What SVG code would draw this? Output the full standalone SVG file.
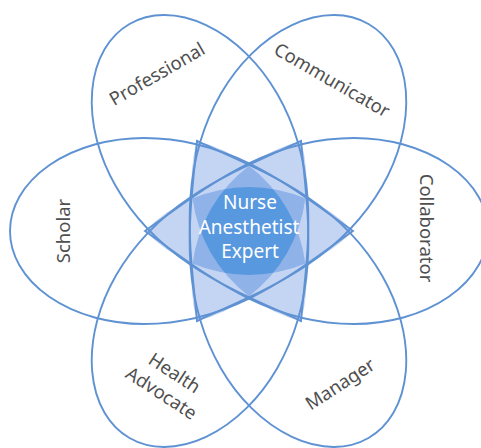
<svg xmlns="http://www.w3.org/2000/svg" width="481" height="448" viewBox="0 0 481 448">
  <style>
    .petal { fill: none; stroke: #5e92d3; stroke-width: 1.9; }
    .label { font-family: "Noto Sans", "Open Sans", "Liberation Sans", sans-serif; font-size: 18.5px; fill: #4f4f4f; text-anchor: middle; }
    .core { font-family: "Noto Sans", "Open Sans", "Liberation Sans", sans-serif; font-size: 19px; fill: #ffffff; text-anchor: middle; }
    .light { fill: #c4d4f3; }
    .mid { fill: #8fb2e9; }
    .dark { fill: #5898df; }
  </style>
  <defs>
    <!-- leaf-shaped petal: rounded outer end on the left, pointed tip past the flower centre -->
    <path id="petal" d="M 104 0 C 46.7 -40.2, -15 -93, -105 -93 A 134 93 0 0 0 -239 0 A 134 93 0 0 0 -105 93 C -15 93, 46.7 40.2, 104 0 Z"/>
    <!-- pointed lens through the centre; rotated copies make the star -->
    <path id="lens" d="M -104 0 A 145 145 0 0 1 104 0 A 145 145 0 0 1 -104 0 Z"/>
    <clipPath id="clip-l60"><use href="#lens" transform="translate(249 231) rotate(-60)"/></clipPath>
    <clipPath id="clip-l120"><use href="#lens" transform="translate(249 231) rotate(-120)"/></clipPath>
  </defs>

  <rect width="481" height="448" fill="#ffffff"/>

  <!-- shaded overlaps in the middle of the flower -->
  <g id="overlaps">
    <use href="#lens" class="light" transform="translate(249 231)"/>
    <use href="#lens" class="light" transform="translate(249 231) rotate(-60)"/>
    <use href="#lens" class="light" transform="translate(249 231) rotate(-120)"/>
    <g clip-path="url(#clip-l60)"><use href="#lens" class="mid" transform="translate(249 231)"/></g>
    <g clip-path="url(#clip-l120)"><use href="#lens" class="mid" transform="translate(249 231)"/></g>
    <g clip-path="url(#clip-l120)"><use href="#lens" class="mid" transform="translate(249 231) rotate(-60)"/></g>
    <g clip-path="url(#clip-l120)"><g clip-path="url(#clip-l60)"><use href="#lens" class="dark" transform="translate(249 231)"/></g></g>
  </g>

  <g id="scholar">
    <use href="#petal" class="petal" transform="translate(249 231)"/>
    <text class="label" transform="translate(64 231) rotate(-90)" dy="0.35em">Scholar</text>
  </g>
  <g id="professional">
    <use href="#petal" class="petal" transform="translate(249 231) rotate(60)"/>
    <text class="label" transform="translate(157 74) rotate(-30)" dy="0.35em">Professional</text>
  </g>
  <g id="communicator">
    <use href="#petal" class="petal" transform="translate(249 231) rotate(120)"/>
    <text class="label" transform="translate(332 80) rotate(30)" dy="0.35em">Communicator</text>
  </g>
  <g id="collaborator">
    <use href="#petal" class="petal" transform="translate(249 231) rotate(180)"/>
    <text class="label" transform="translate(426 228) rotate(90)" dy="0.35em">Collaborator</text>
  </g>
  <g id="manager">
    <use href="#petal" class="petal" transform="translate(249 231) rotate(240)"/>
    <text class="label" transform="translate(340 384) rotate(-33)" dy="0.35em">Manager</text>
  </g>
  <g id="health-advocate">
    <use href="#petal" class="petal" transform="translate(249 231) rotate(-60)"/>
    <g transform="translate(168 383) rotate(33)">
      <text class="label" y="-12" dy="0.35em">Health</text>
      <text class="label" y="12" dy="0.35em">Advocate</text>
    </g>
  </g>

  <g id="nurse-anesthetist-expert">
    <text class="core" x="250" y="209">Nurse</text>
    <text class="core" x="249" y="234">Anesthetist</text>
    <text class="core" x="250" y="258">Expert</text>
  </g>
</svg>
